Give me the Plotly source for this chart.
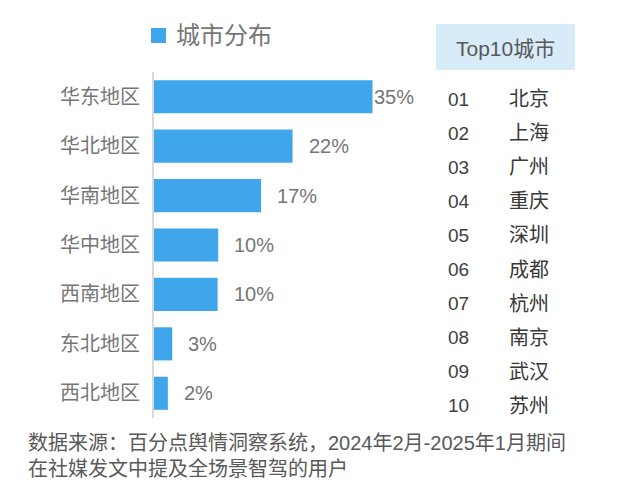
import plotly.graph_objects as go

regions = ["华东地区", "华北地区", "华南地区", "华中地区", "西南地区", "东北地区", "西北地区"]
shares = [34.7, 22.0, 17.0, 10.2, 10.1, 2.9, 2.2]
share_labels = ["35%", "22%", "17%", "10%", "10%", "3%", "2%"]
series_name = "城市分布"

top_header = "Top10城市"
top_ranks = ["01", "02", "03", "04", "05", "06", "07", "08", "09", "10"]
top_cities = ["北京", "上海", "广州", "重庆", "深圳", "成都", "杭州", "南京", "武汉", "苏州"]

footer = "数据来源：百分点舆情洞察系统，2024年2月-2025年1月期间<br>在社媒发文中提及全场景智驾的用户"

FONT = "Liberation Sans, Arial, Noto Sans CJK SC, sans-serif"
BAR = "#3fa6ec"
GRAY = "#767676"
DARK = "#404040"

W, H = 625, 484
L, R, T, B = 154, 625 - 416, 72, 484 - 418
XMAX = 41.6
pw = W - L - R
ph = H - T - B


def px(xpix):
    return (xpix - L) / pw


def py(ypix):
    return (H - B - ypix) / ph


fig = go.Figure()
fig.add_trace(go.Bar(
    x=shares, y=regions, orientation="h", name=series_name,
    marker=dict(color=BAR, line=dict(width=0)),
    showlegend=False, hoverinfo="skip",
))

annotations = []
vmax = max(shares)
for v, lab, reg in zip(shares, share_labels, regions):
    if v == vmax:
        annotations.append(dict(x=XMAX, y=reg, xref="x", yref="y", text=lab,
                                showarrow=False, xanchor="right", yanchor="middle",
                                font=dict(size=20, color=GRAY, family=FONT)))
    else:
        annotations.append(dict(x=v, y=reg, xref="x", yref="y", text=lab,
                                showarrow=False, xanchor="left", yanchor="middle", xshift=14,
                                font=dict(size=20, color=GRAY, family=FONT)))

# legend-like title
annotations.append(dict(x=px(174), y=py(35), xref="paper", yref="paper", text=series_name,
                        showarrow=False, xanchor="left", yanchor="middle",
                        font=dict(size=24, color=GRAY, family=FONT)))

# Top10 header
annotations.append(dict(x=px(505.5), y=py(48), xref="paper", yref="paper", text=top_header,
                        showarrow=False, xanchor="center", yanchor="middle",
                        font=dict(size=21, color="#595959", family=FONT)))
row_y0, row_dy = 99, 34.1
for i, (rk, ct) in enumerate(zip(top_ranks, top_cities)):
    yy = py(row_y0 + i * row_dy)
    annotations.append(dict(x=px(446), y=yy, xref="paper", yref="paper", text=rk,
                            showarrow=False, xanchor="left", yanchor="middle",
                            font=dict(size=19, color=DARK, family=FONT)))
    annotations.append(dict(x=px(507), y=yy, xref="paper", yref="paper", text=ct,
                            showarrow=False, xanchor="left", yanchor="middle",
                            font=dict(size=20, color="#383838", family=FONT)))

annotations.append(dict(x=px(26), y=py(456), xref="paper", yref="paper", text=footer,
                        showarrow=False, xanchor="left", yanchor="middle", align="left",
                        font=dict(size=20, color="#595959", family=FONT)))

shapes = [
    dict(type="rect", xref="paper", yref="paper",
         x0=px(436), x1=px(575), y0=py(70), y1=py(24),
         fillcolor="#d7ebf9", line=dict(width=0), layer="below"),
    dict(type="rect", xref="paper", yref="paper",
         x0=px(151), x1=px(166), y0=py(43), y1=py(28),
         fillcolor=BAR, line=dict(width=0)),
]

fig.update_layout(
    width=W, height=H,
    margin=dict(l=L, r=R, t=T, b=B, pad=0, autoexpand=False),
    paper_bgcolor="white", plot_bgcolor="white",
    bargap=0.33,
    showlegend=False,
    font=dict(family=FONT, color=GRAY),
    xaxis=dict(range=[0, XMAX], visible=False, fixedrange=True, automargin=False),
    yaxis=dict(autorange="reversed", showline=True, linecolor="#d9d9d9", linewidth=2,
               showgrid=False, zeroline=False, ticks="", ticklabelstandoff=8, automargin=False,
               fixedrange=True, tickfont=dict(size=20, color=GRAY, family=FONT)),
    annotations=annotations,
    shapes=shapes,
)

fig.write_html("out.html", config={"displayModeBar": False},
               post_script="document.body.style.margin='0';document.body.style.overflow='hidden';")
